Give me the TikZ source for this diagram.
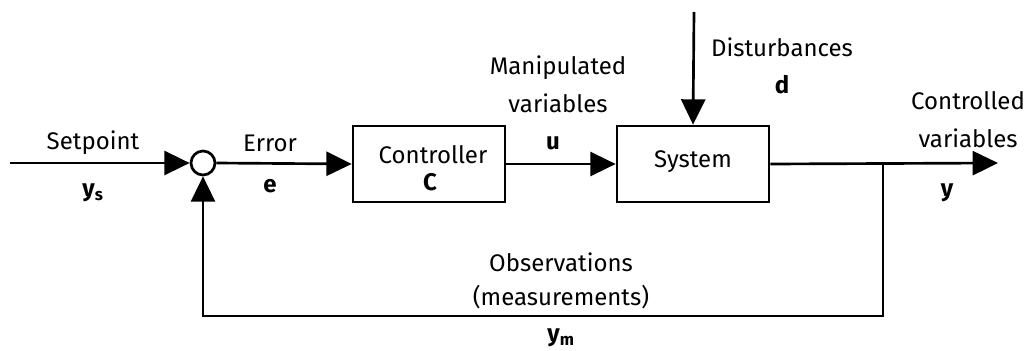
\documentclass[tikz,border=0pt]{standalone}
\usepackage{fontspec}
\setmainfont{Fira Sans}
\usetikzlibrary{arrows.meta}
\begin{document}
\begin{tikzpicture}[x=0.75pt,y=-0.75pt,
  line width=2pt,
  arr/.style={-{Triangle[length=19pt,width=18pt]}},
  blk/.style={draw,rectangle,minimum width=114pt,minimum height=57pt,inner sep=0pt},
  lbl/.style={font=\fontsize{18}{20}\selectfont,inner sep=0pt},
  var/.style={font=\fontsize{18}{20}\selectfont\bfseries,inner sep=0pt}]
\useasboundingbox (0,0) rectangle (1030,350);
\node[circle,draw,minimum size=18pt,inner sep=0pt] (sum) at (203,163) {};
\node[blk] (ctrl) at (429,164) {};
\node[blk] (sys) at (693,164) {};
\coordinate (in) at (10,163);
\coordinate (dist) at (694,12);
\coordinate (out) at (998,163);
\coordinate (tap) at (883,163);
\coordinate (br) at (883,316);
\coordinate (bl) at (203,316);
\draw[arr] (in) -- (sum.west);
\draw[arr] (sum.east) -- (ctrl.west);
\draw[arr] (ctrl.east) -- (sys.west);
\draw[arr] (dist) -- (sys.north);
\draw[arr] (sys.east) -- (out);
\draw[arr] (tap) -- (br) -- (bl) -- (sum.south);
\node[lbl] (t1) at (93,143) {Setpoint};
\node[var] (t2) at (93,193) {y\textsubscript{s}};
\node[lbl] (t3) at (270,143) {Error};
\node[var] (t4) at (270,186) {e};
\node[lbl] (t5) at (433,155) {Controller};
\node[var] (t6) at (430,182) {C};
\node[lbl] (t7) at (558,68) {Manipulated};
\node[lbl] (t8) at (558,103) {variables};
\node[var] (t9) at (553,143) {u};
\node[lbl] (t10) at (693,162) {System};
\node[lbl] (t11) at (782,47) {Disturbances};
\node[var] (t12) at (782,85) {d};
\node[lbl] (t13) at (968,101) {Controlled};
\node[lbl] (t14) at (968,138) {variables};
\node[var] (t15) at (947,193) {y};
\node[lbl] (t16) at (561,262) {Observations};
\node[lbl] (t17) at (561,297) {(measurements)};
\node[var] (t18) at (561,338) {y\textsubscript{m}};
\end{tikzpicture}
\end{document}
